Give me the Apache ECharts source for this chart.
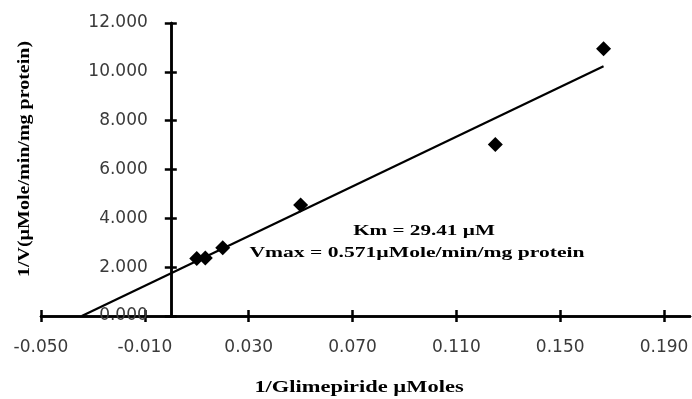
<!DOCTYPE html>
<html><head><meta charset="utf-8">
<script src="https://cdn.jsdelivr.net/npm/echarts@6/dist/echarts.min.js"></script>
<style>html,body{margin:0;padding:0;background:#fff}#c{width:692px;height:399px}</style>
</head><body><div id="c"></div>
<script>
var xValues = [0.0100, 0.0133, 0.0200, 0.0500, 0.1250, 0.1667];
var yValues = [2.35, 2.38, 2.80, 4.55, 7.02, 10.95];
var xTicks = [-0.05, -0.01, 0.03, 0.07, 0.11, 0.15, 0.19];
var yTicks = [0, 2, 4, 6, 8, 10, 12];
var xTitle = '1/Glimepiride \u00b5Moles';
var yTitle = '1/V(\u00b5Mole/min/mg protein)';
var note1 = 'Km = 29.41 \u00b5M';
var note2 = 'Vmax = 0.571\u00b5Mole/min/mg protein';

// least-squares trendline
var n = xValues.length, mx = 0, my = 0;
for (var i = 0; i < n; i++) { mx += xValues[i]; my += yValues[i]; }
mx /= n; my /= n;
var sxx = 0, sxy = 0;
for (var i = 0; i < n; i++) { sxx += (xValues[i]-mx)*(xValues[i]-mx); sxy += (xValues[i]-mx)*(yValues[i]-my); }
var slope = sxy / sxx, icpt = my - slope * mx;
var xStart = -icpt / slope, xEnd = xValues[n-1];
var trend = [[xStart, 0], [xEnd, icpt + slope * xEnd]];

var pts = xValues.map(function (x, i) { return [x, yValues[i]]; });

var X_MIN = -0.05, X_MAX = 0.2;
var GRID_L = 41, GRID_R = 2, W = 692;
var plotW = W - GRID_L - GRID_R;
var yAxisShift = (0 - X_MIN) / (X_MAX - X_MIN) * plotW;

var labelFont = {fontFamily: '"DejaVu Sans", sans-serif', fontSize: 17, color: '#3a3a3a'};
function xAx(inside, show) {
  return {type: 'value', min: X_MIN, max: X_MAX, position: 'bottom',
    axisLine: {show: true, onZero: false, lineStyle: {color: '#000', width: 2.5}},
    axisTick: {show: true, inside: inside, length: 6, customValues: xTicks, lineStyle: {color: '#000', width: 2.5}},
    axisLabel: Object.assign({show: show, margin: 23, customValues: xTicks, formatter: function (v) { return v.toFixed(3); }}, labelFont),
    splitLine: {show: false}};
}
function yAx(inside, show) {
  return {type: 'value', min: 0, max: 12, interval: 2, position: 'left', offset: -yAxisShift,
    axisLine: {show: true, onZero: false, lineStyle: {color: '#000', width: 2.5}},
    axisTick: {show: true, inside: inside, length: 6, lineStyle: {color: '#000', width: 2.5}},
    axisLabel: Object.assign({show: show, margin: 23, formatter: function (v) { return v.toFixed(3); }}, labelFont),
    splitLine: {show: false}};
}
var serifB = '"Liberation Serif", "Times New Roman", serif';
var chart = echarts.init(document.getElementById('c'), null, {renderer: 'canvas'});
chart.setOption({
  animation: false,
  backgroundColor: '#fff',
  grid: {left: GRID_L, right: GRID_R, top: 23, bottom: 83, containLabel: false, outerBoundsMode: 'none'},
  xAxis: [xAx(false, true), xAx(true, false)],
  yAxis: [yAx(false, true), yAx(true, false)],
  series: [
    {type: 'line', data: trend, xAxisIndex: 0, yAxisIndex: 0, symbol: 'none',
      lineStyle: {color: '#000', width: 2.2}, z: 3},
    {type: 'scatter', data: pts, xAxisIndex: 0, yAxisIndex: 0, symbol: 'diamond', symbolSize: 15,
      itemStyle: {color: '#000', opacity: 1}, z: 4}
  ],
  graphic: [
    {type: 'text', x: 359, y: 388, scaleX: 1.32, style: {text: xTitle, font: 'bold 17px ' + serifB, fill: '#000', align: 'center', verticalAlign: 'middle'}},
    {type: 'text', x: 25, y: 159, rotation: Math.PI/2, scaleX: 1.25, style: {text: yTitle, font: 'bold 16px ' + serifB, fill: '#000', align: 'center', verticalAlign: 'middle'}},
    {type: 'text', x: 424, y: 231, scaleX: 1.41, style: {text: note1, font: 'bold 15px ' + serifB, fill: '#000', align: 'center', verticalAlign: 'middle'}},
    {type: 'text', x: 417, y: 253, scaleX: 1.44, style: {text: note2, font: 'bold 15px ' + serifB, fill: '#000', align: 'center', verticalAlign: 'middle'}}
  ]
});
</script></body></html>
